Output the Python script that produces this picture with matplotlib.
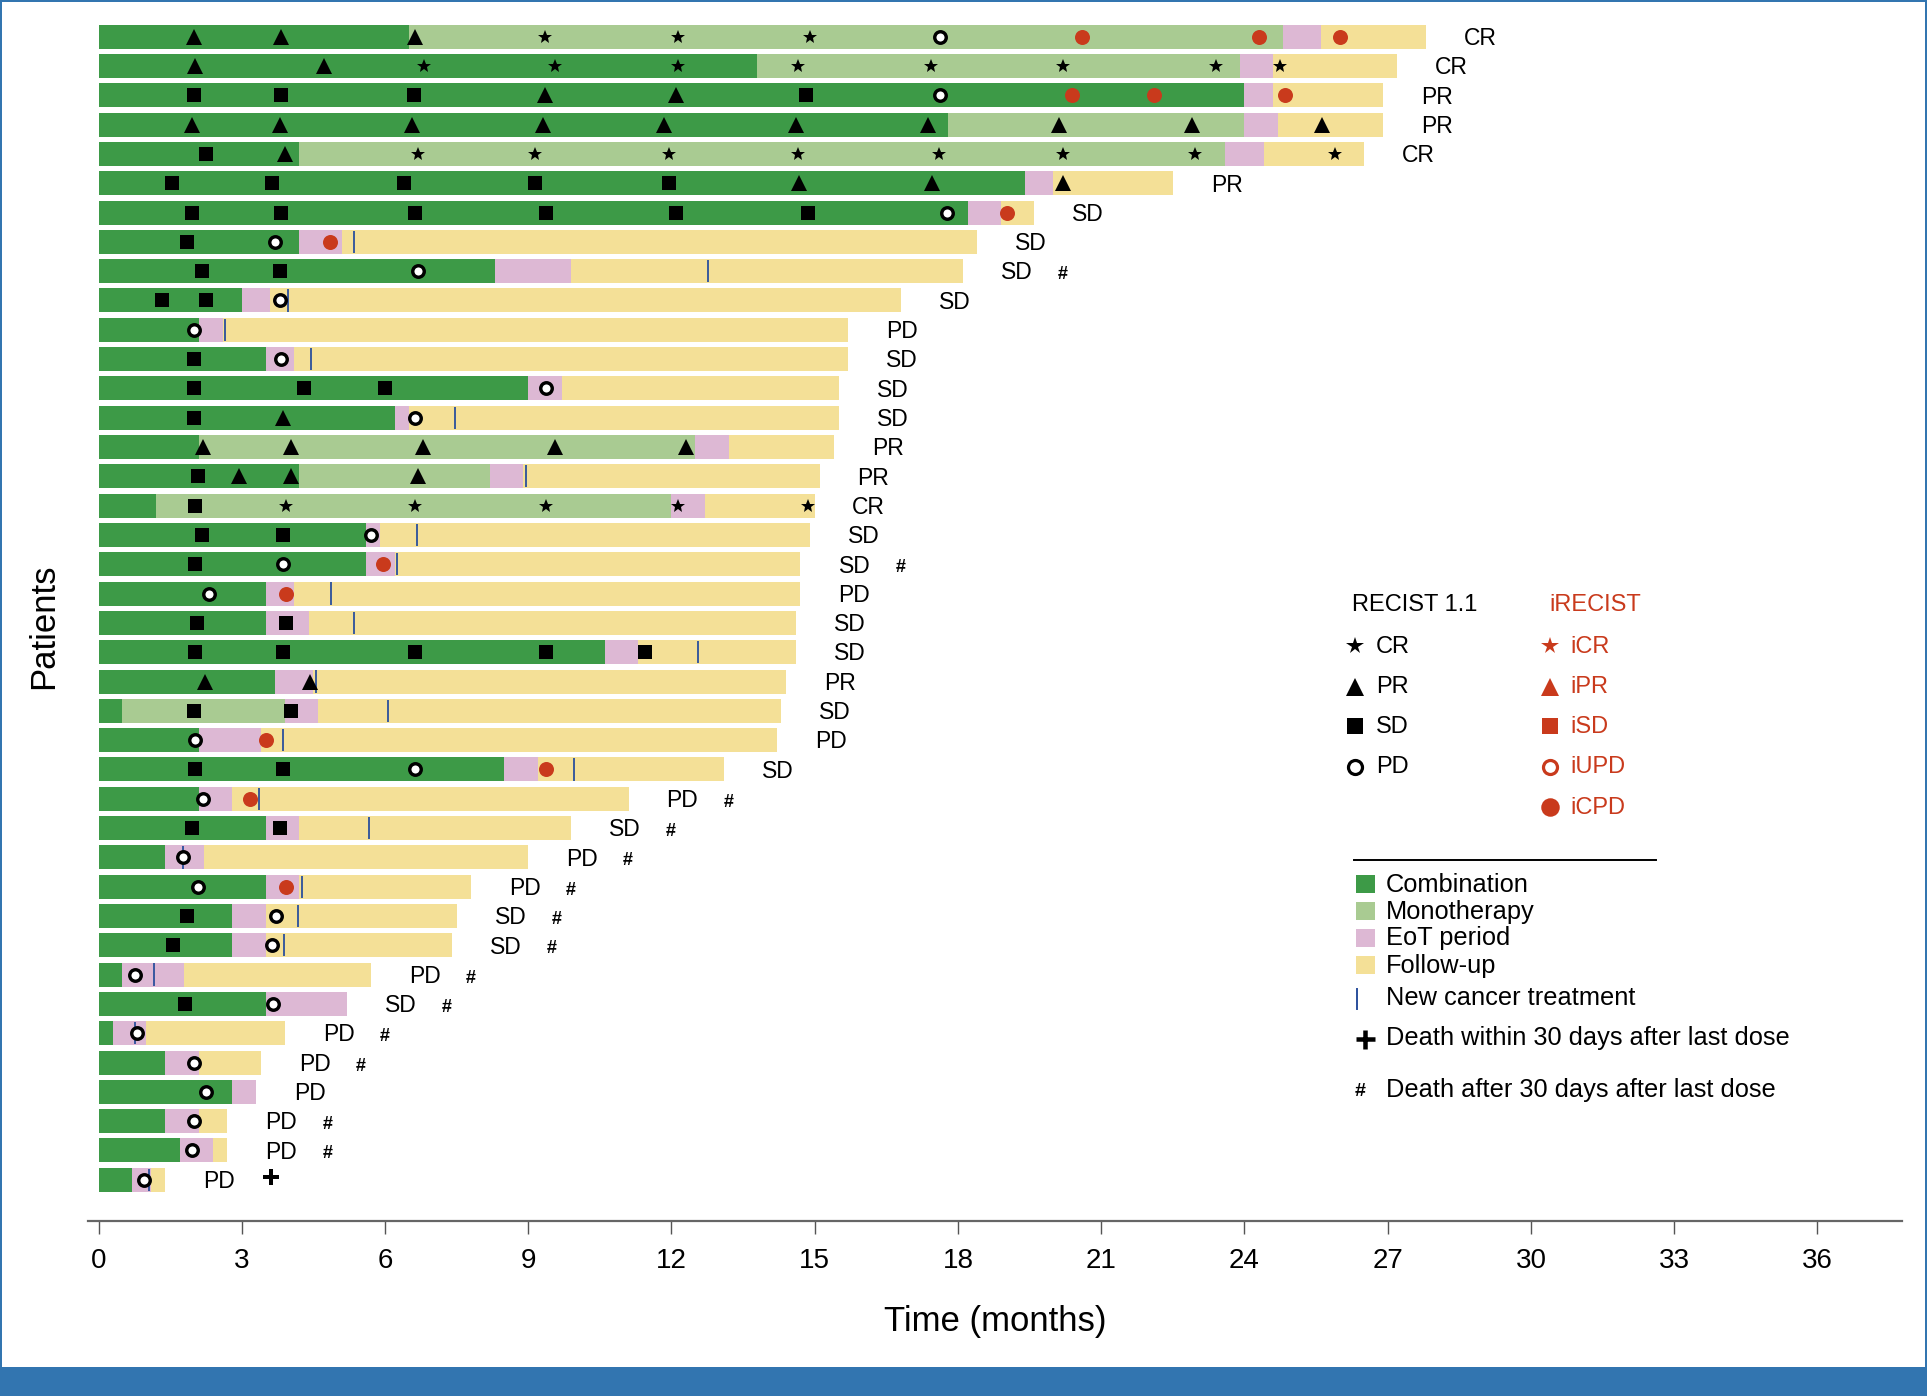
import matplotlib
matplotlib.use("Agg")
import matplotlib.pyplot as plt
from matplotlib import font_manager
from matplotlib.patches import Rectangle

plt.rcParams['font.family'] = ['Liberation Sans', 'DejaVu Sans']

# ---------- data (months) ----------
combination_end = [6.5, 13.8, 24.0, 17.8, 4.2, 19.4, 18.2, 4.2, 8.3, 3.0,
                   2.1, 3.5, 9.0, 6.2, 2.1, 4.2, 1.2, 5.6, 5.6, 3.5,
                   3.5, 10.6, 3.7, 0.5, 2.1, 8.5, 2.1, 3.5, 1.4, 3.5,
                   2.8, 2.8, 0.5, 3.5, 0.3, 1.4, 2.8, 1.4, 1.7, 0.7]
monotherapy_end = [24.8, 23.9, 24.0, 24.0, 23.6, 19.4, 18.2, 4.2, 8.3, 3.0,
                   2.1, 3.5, 9.0, 6.2, 12.5, 8.2, 12.0, 5.6, 5.6, 3.5,
                   3.5, 10.6, 3.7, 3.9, 2.1, 8.5, 2.1, 3.5, 1.4, 3.5,
                   2.8, 2.8, 0.5, 3.5, 0.3, 1.4, 2.8, 1.4, 1.7, 0.7]
eot_end = [25.6, 24.6, 24.6, 24.7, 24.4, 20.0, 18.9, 5.1, 9.9, 3.6,
           2.6, 4.1, 9.7, 6.5, 13.2, 8.9, 12.7, 5.9, 6.2, 4.1,
           4.4, 11.3, 4.5, 4.6, 3.4, 9.2, 2.8, 4.2, 2.2, 4.2,
           3.5, 3.5, 1.8, 5.2, 1.0, 2.1, 3.3, 2.1, 2.4, 1.1]
followup_end = [27.8, 27.2, 26.9, 26.9, 26.5, 22.5, 19.6, 18.4, 18.1, 16.8,
                15.7, 15.7, 15.5, 15.5, 15.4, 15.1, 15.0, 14.9, 14.7, 14.7,
                14.6, 14.6, 14.4, 14.3, 14.2, 13.1, 11.1, 9.9, 9.0, 7.8,
                7.5, 7.4, 5.7, 5.2, 3.9, 3.4, 3.3, 2.7, 2.7, 1.4]
best_response = ['CR', 'CR', 'PR', 'PR', 'CR', 'PR', 'SD', 'SD', 'SD', 'SD',
                 'PD', 'SD', 'SD', 'SD', 'PR', 'PR', 'CR', 'SD', 'SD', 'PD',
                 'SD', 'SD', 'PR', 'SD', 'PD', 'SD', 'PD', 'SD', 'PD', 'PD',
                 'SD', 'SD', 'PD', 'SD', 'PD', 'PD', 'PD', 'PD', 'PD', 'PD']
death_after_30d = [9, 19, 27, 28, 29, 30, 31, 32, 33, 34, 35, 36, 38, 39]
death_within_30d = [40]

cr_times = {1: [9.35, 12.14, 14.9], 2: [6.82, 9.57, 12.14, 14.64, 17.43, 20.19, 23.4, 24.75],
            5: [6.7, 9.15, 11.95, 14.64, 17.6, 20.2, 22.97, 25.9],
            17: [3.93, 6.63, 9.38, 12.14, 14.86]}
pr_times = {1: [2.0, 3.83, 6.63], 2: [2.03, 4.72], 3: [9.35, 12.1],
            4: [1.95, 3.8, 6.56, 9.3, 11.84, 14.6, 17.37, 20.12, 22.9, 25.63],
            5: [3.9], 6: [14.67, 17.46, 20.2], 14: [3.87],
            15: [2.18, 4.03, 6.79, 9.55, 12.3], 16: [2.94, 4.03, 6.69], 23: [2.24, 4.43]}
sd_times = {3: [2.0, 3.83, 6.6, 14.82], 5: [2.26], 6: [1.54, 3.64, 6.4, 9.15, 11.95],
            7: [1.95, 3.83, 6.63, 9.38, 12.1, 14.85], 8: [1.86], 9: [2.17, 3.81],
            10: [1.32, 2.26], 12: [2.0], 13: [2.0, 4.3, 6.0], 14: [2.0], 16: [2.08],
            17: [2.02], 18: [2.17, 3.86], 19: [2.02], 21: [2.07, 3.92],
            22: [2.02, 3.86, 6.62, 9.38, 11.45], 24: [1.99, 4.03], 26: [2.02, 3.86],
            28: [1.95, 3.8], 31: [1.86], 32: [1.56], 34: [1.82]}
pd_times = {1: [17.63], 3: [17.63], 7: [17.78], 8: [3.7], 9: [6.69], 10: [3.8], 11: [2.01],
            12: [3.83], 13: [9.38], 14: [6.63], 18: [5.71], 19: [3.86], 20: [2.31], 25: [2.02],
            26: [6.62], 27: [2.18], 29: [1.78], 30: [2.08], 31: [3.71], 32: [3.63], 33: [0.77],
            34: [3.66], 35: [0.8], 36: [2.01], 37: [2.25], 38: [2.01], 39: [1.96], 40: [0.96]}
icpd_times = {1: [20.6, 24.3, 26.0], 3: [20.38, 22.1, 24.85], 7: [19.03], 8: [4.85],
              19: [5.96], 20: [3.92], 25: [3.5], 26: [9.38], 27: [3.17], 30: [3.92]}
new_treatment = {8: 5.36, 9: 12.76, 10: 3.97, 11: 2.65, 12: 4.45, 14: 7.46, 16: 8.95,
                 18: 6.66, 19: 6.25, 20: 4.86, 21: 5.35, 22: 12.55, 23: 4.56, 24: 6.06,
                 25: 3.87, 26: 9.96, 27: 3.36, 28: 5.67, 29: 1.76, 30: 4.27, 31: 4.17,
                 32: 3.88, 33: 1.16, 35: 0.77, 40: 1.06}
x_ticks = list(range(0, 37, 3))

# ---------- style ----------
GREEN, LIGHT, PINK, YELLOW = '#3d9a47', '#a9cb92', '#ddb8d4', '#f4e097'
RED, BLUE, BAND = '#c93a1c', '#2a4f9c', '#3275b0'
PX = 0.72  # points per pixel at dpi 100
W, H = 1927, 1396

# tall, condensed axis titles when the narrow cut is available
try:
    font_manager.findfont('Liberation Sans Narrow', fallback_to_default=False)
    title_font, title_size = 'Liberation Sans Narrow', 30
except ValueError:
    title_font, title_size = 'Liberation Sans', 25

fig = plt.figure(figsize=(W / 100, H / 100), dpi=100, facecolor='white')

# page overlay (pixel coordinates) for the frame, band and hand-built key
page = fig.add_axes([0, 0, 1, 1], zorder=3)
page.set_xlim(0, W)
page.set_ylim(H, 0)
page.axis('off')
page.patch.set_alpha(0)

ax_l, ax_r, ax_t, ax_b = 88, 1902, 10, 1221
ax = fig.add_axes([ax_l / W, (H - ax_b) / H, (ax_r - ax_l) / W, (ax_b - ax_t) / H], zorder=2)
x0, px_month = 98.5, 47.75
row1, row_pitch = 36.7, 29.31
ax.set_xlim((ax_l - x0) / px_month, (ax_r - x0) / px_month)
ax.set_ylim((ax_b - row1) / row_pitch + 1, (ax_t - row1) / row_pitch + 1)
for s in ('top', 'left', 'right'):
    ax.spines[s].set_visible(False)
ax.spines['bottom'].set_color('#666666')
ax.spines['bottom'].set_linewidth(1.6)
ax.set_yticks([])
ax.set_xticks(x_ticks)
ax.tick_params(axis='x', length=13 * PX, width=1.0, color='#555555', pad=10, labelsize=20)

bar_h = 24 / row_pitch
for i in range(len(followup_end)):
    y = i + 1
    starts = [0, combination_end[i], monotherapy_end[i], eot_end[i]]
    ends = [combination_end[i], monotherapy_end[i], eot_end[i], followup_end[i]]
    for st, en, c in zip(starts, ends, [GREEN, LIGHT, PINK, YELLOW]):
        if en > st:
            ax.barh(y, en - st, left=st, height=bar_h, color=c, linewidth=0, zorder=1)
    ax.text(followup_end[i] + 1.13, y + 0.06, best_response[i], ha='center', va='center',
            fontsize=16.5, color='black')
    if y in death_after_30d:
        ax.text(followup_end[i] + 2.09, y + 0.12, '#', ha='center', va='center',
                fontsize=13, fontweight='bold', color='black')
    if y in death_within_30d:
        ax.plot(followup_end[i] + 2.22, y - 0.08, marker='+', ms=16 * PX, color='black',
                mew=4 * PX, ls='none', zorder=5)

for y, m in new_treatment.items():
    ax.plot([m, m], [y - bar_h / 2 + 0.03, y + bar_h / 2 - 0.03], color=BLUE, lw=1.3, zorder=2,
            solid_capstyle='butt')


def scatter(times, **kw):
    xs = [m for y, ms in times.items() for m in ms]
    ys = [y for y, ms in times.items() for m in ms]
    ax.plot(xs, ys, ls='none', zorder=4, **kw)


scatter(sd_times, marker='s', ms=13.5 * PX, color='black', mew=0)
scatter(pr_times, marker='^', ms=15.5 * PX, color='black', mew=0)
scatter(cr_times, marker='*', ms=15 * PX, color='black', mew=0)
scatter(pd_times, marker='o', ms=11.5 * PX, mfc='white', mec='black', mew=3.4 * PX)
scatter(icpd_times, marker='o', ms=15 * PX, color=RED, mew=0)

page.text(995, 1322, 'Time (months)', ha='center', va='center', fontsize=title_size, fontfamily=title_font)
page.text(44, 626, 'Patients', rotation=90, ha='center', va='center', fontsize=title_size, fontfamily=title_font)

# frame and band
page.add_patch(Rectangle((0, 1367), W, 29, color=BAND, lw=0))
page.add_patch(Rectangle((0, 0), 2, 1367, color=BAND, lw=0))
page.add_patch(Rectangle((W - 2, 0), 2, 1367, color=BAND, lw=0))
page.add_patch(Rectangle((0, 0), W, 2, color=BAND, lw=0))

# key: response markers
LF = 17
page.text(1352, 605, 'RECIST 1.1', fontsize=LF, va='center', color='black')
page.text(1549, 605, 'iRECIST', fontsize=LF, va='center', color=RED)
black_rows = [('CR', '*', 646), ('PR', '^', 686), ('SD', 's', 726), ('PD', 'o', 766)]
red_rows = [('iCR', '*', 646), ('iPR', '^', 686), ('iSD', 's', 726), ('iUPD', 'o', 766), ('iCPD', 'O', 807)]
for lab, mk, yy in black_rows:
    page.text(1376, yy + 1, lab, fontsize=LF, va='center', color='black')
    if mk == 'o':
        page.plot(1354.8, yy + 1, marker='o', ms=14 * PX, mfc='white', mec='black', mew=3.2 * PX, ls='none')
    else:
        page.plot(1354.8, yy + (1 if mk == '^' else 0), marker=mk, ms=(18 if mk != 's' else 16) * PX,
                  color='black', mew=0, ls='none')
for lab, mk, yy in red_rows:
    page.text(1570, yy + 1, lab, fontsize=LF, va='center', color=RED)
    if mk == 'o':
        page.plot(1550, yy + 1, marker='o', ms=14 * PX, mfc='white', mec=RED, mew=3.2 * PX, ls='none')
    elif mk == 'O':
        page.plot(1550, yy, marker='o', ms=18.5 * PX, color=RED, mew=0, ls='none')
    else:
        page.plot(1550, yy + (1 if mk == '^' else 0), marker=mk, ms=(18 if mk != 's' else 16) * PX,
                  color=RED, mew=0, ls='none')

page.plot([1353.6, 1656], [859.6, 859.6], color='black', lw=1.4)

# key: period swatches
KF = 18.3
for lab, c, yy in [('Combination', GREEN, 884), ('Monotherapy', LIGHT, 911),
                   ('EoT period', PINK, 938), ('Follow-up', YELLOW, 965)]:
    page.add_patch(Rectangle((1356, yy - 9), 19, 18, color=c, lw=0))
    page.text(1386, yy + 0.5, lab, fontsize=KF, va='center', color='black')
page.plot([1357, 1357], [989, 1008.6], color=BLUE, lw=1.4)
page.text(1386, 998, 'New cancer treatment', fontsize=KF, va='center', color='black')
page.plot(1365, 1039, marker='+', ms=19 * PX, color='black', mew=4.5 * PX, ls='none')
page.text(1386, 1037.5, 'Death within 30 days after last dose', fontsize=KF, va='center', color='black')
page.text(1360, 1091, '#', fontsize=14, fontweight='bold', ha='center', va='center', color='black')
page.text(1386, 1090.5, 'Death after 30 days after last dose', fontsize=KF, va='center', color='black')

fig.savefig('out.png', dpi=100)
